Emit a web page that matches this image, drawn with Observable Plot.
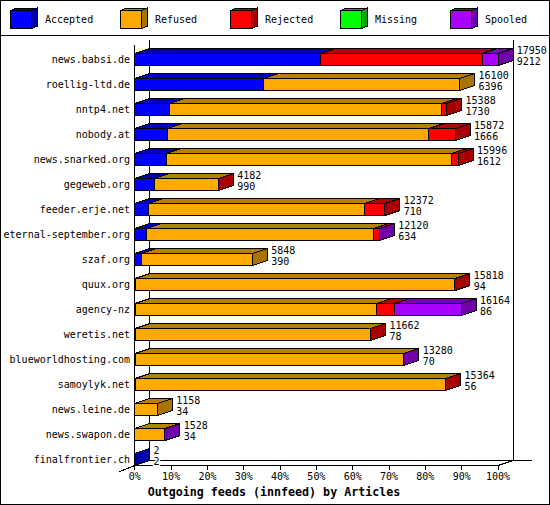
<!DOCTYPE html>
<html><head><meta charset="utf-8">
<script src="https://cdn.jsdelivr.net/npm/d3@7"></script>
<script src="https://cdn.jsdelivr.net/npm/@observablehq/plot@0.6"></script>
<style>
html,body{margin:0;padding:0;background:#fff}
#wrap{position:relative;width:550px;height:505px;overflow:hidden;background:#fff;font-family:"DejaVu Sans Mono",monospace;color:#000}
#frame{position:absolute;left:0;top:0;width:550px;height:505px;box-sizing:border-box;border:1px solid #000;pointer-events:none}
#legend{position:absolute;left:0;top:0;width:550px;height:36px}
#legend svg,#chart svg{display:block}
#rule{position:absolute;left:0;top:35px;width:550px;height:1px;background:#000}
#chart{position:absolute;left:0;top:35px}
#title{position:absolute;left:0;width:548px;top:485px;text-align:center;font-weight:bold;font-size:11.67px;line-height:14px;white-space:nowrap}
</style></head>
<body><div id="wrap"><div id="legend"></div><div id="rule"></div><div id="chart"></div>
<div id="title">Outgoing feeds (innfeed) by Articles</div><div id="frame"></div></div>
<script>
const hosts = ["news.babsi.de","roellig-ltd.de","nntp4.net","nobody.at","news.snarked.org","gegeweb.org","feeder.erje.net","eternal-september.org","szaf.org","quux.org","agency-nz","weretis.net","blueworldhosting.com","samoylyk.net","news.leine.de","news.swapon.de","finalfrontier.ch"];
const accepted = [51.1,35.4,9.55,9.0,8.62,5.4,3.67,3.2,1.84,0.2,0.2,0.2,0.2,0.2,0,0,0.02];
const refused  = [0,54.1,74.8,72.0,78.7,17.6,59.5,62.5,30.55,87.9,66.3,64.7,73.85,85.4,6.25,8.26,0];
const rejected = [44.5,0,1.57,7.26,1.76,0.05,5.7,1.65,0,0.05,4.95,0.05,0,0.05,0,0,0];
const missing  = [0,0,0,0,0,0,0,0,0,0,0,0,0,0,0,0,0];
const spooled  = [4.4,0,0,0,0,0,0,0.05,0,0,18.44,0,0.05,0,0,0.05,0];
const topLabels = ["17950","16100","15388","15872","15996","4182","12372","12120","5848","15818","16164","11662","13280","15364","1158","1528","2"];
const subLabels = ["9212","6396","1730","1666","1612","990","710","634","390","94","86","78","70","56","34","34","2"];
const seriesNames = ["Accepted","Refused","Rejected","Missing","Spooled"];
const frontColors = ["#0000ff","#ffaa00","#ff0000","#00ff00","#aa00ff"];
const topColors   = ["#0000b8","#b88000","#b80000","#00b800","#7a00b8"];
const sideColors  = ["#0000a8","#a87400","#a80000","#00a800","#7000a8"];
const seriesValues = [accepted,refused,rejected,missing,spooled];

const font = "DejaVu Sans Mono, monospace";
const depthX = 15/3.63, depthY = 0.2, half = 0.24;

// one closed polygon per face of a box
function box(id, s, x1, x2, y1, y2, dx, dy, withSide) {
  const poly = (name, fill, pts) => pts.concat([pts[0]]).map(([x, y]) => ({x, y, fill, face: id + name}));
  let out = poly("t", topColors[s], [[x1,y1],[x1+dx,y1-dy],[x2+dx,y1-dy],[x2,y1]]);
  out = out.concat(poly("f", frontColors[s], [[x1,y1],[x2,y1],[x2,y2],[x1,y2]]));
  if (withSide) out = out.concat(poly("s", sideColors[s], [[x2,y1],[x2+dx,y1-dy],[x2+dx,y2-dy],[x2,y2]]));
  return out;
}

let faces = [], ends = [];
hosts.forEach((h, i) => {
  let pos = 0, segs = [];
  seriesValues.forEach((vals, s) => { if (vals[i] > 0) { segs.push([s, pos, pos + vals[i]]); pos += vals[i]; } });
  segs.forEach(([s, a, b], k) => {
    faces = faces.concat(box(i + "-" + s, s, a, b, i - half, i + half, depthX, depthY, k === segs.length - 1));
  });
  ends.push({i, end: pos + depthX, a: topLabels[i], b: subLabels[i]});
});

const lineOpts = {x:"x", y:"y", z:"face", fill:"fill", stroke:"#000", strokeWidth:1, curve:"linear", shapeRendering:"crispEdges"};
const crisp = {stroke:"#000", strokeWidth:1, shapeRendering:"crispEdges"};
const topFront = -0.572, topBack = -0.772, bottomFront = 16 + half, bottomBack = bottomFront - depthY;

document.getElementById("chart").append(Plot.plot({
  width:550, height:449, marginLeft:134, marginRight:52, marginTop:0, marginBottom:19,
  style:{fontFamily:font, fontSize:"10px", background:"transparent", color:"#000"},
  x:{domain:[0,100], range:[134.3,497.5]},
  y:{domain:[0,16], range:[24,424]},
  marks:[
    Plot.ruleX([0], {...crisp, y1:topFront, y2:bottomFront}),
    Plot.ruleX([depthX, 100+depthX], {...crisp, y1:topBack, y2:bottomBack}),
    Plot.ruleY([bottomFront], {...crisp, x1:0, x2:100}),
    Plot.ruleY([bottomBack], {...crisp, x1:depthX, x2:109.6}),
    Plot.line([{x:0,y:bottomFront},{x:-depthX,y:bottomFront+depthY*1.2}], {x:"x",y:"y",...crisp}),
    Plot.line([{x:100,y:bottomFront},{x:100+depthX,y:bottomBack}], {x:"x",y:"y",...crisp}),
    Plot.line(faces, lineOpts),
    Plot.axisX({ticks:d3.range(0,101,10), tickFormat:d=>d+"%", tickSize:5, tickPadding:2.5, label:null, fontSize:10, shapeRendering:"crispEdges"}),
    Plot.axisY({ticks:d3.range(0,17), tickFormat:i=>hosts[i], tickSize:0, tickPadding:4.5, label:null, fontSize:10}),
    Plot.text(ends, {x:"end", y:"i", text:"a", textAnchor:"start", dx:3.7, dy:-9, fontSize:10, fill:"#000", stroke:"#fff", strokeWidth:3, paintOrder:"stroke"}),
    Plot.text(ends, {x:"end", y:"i", text:"b", textAnchor:"start", dx:3.7, dy:2, fontSize:10, fill:"#000", stroke:"#fff", strokeWidth:3, paintOrder:"stroke"})
  ]
}));

// legend: same cube shape, one per series
const legendIdx = d3.range(seriesNames.length);
faces = legendIdx.flatMap(s => box("L"+s, s, s, s+21/110, 10, 28, 6/110, 2.5, true));
document.getElementById("legend").append(Plot.plot({
  width:550, height:36, margin:0,
  style:{fontFamily:font, fontSize:"10px", background:"transparent", color:"#000"},
  x:{domain:[0,4], range:[10,450], axis:null},
  y:{domain:[0,36], range:[0,36], axis:null},
  marks:[
    Plot.line(faces, lineOpts),
    Plot.text(legendIdx, {x:d=>d, y:d=>19.5, text:d=>seriesNames[d], textAnchor:"start", dx:34.5, fontSize:10, fill:"#000"})
  ]
}));
</script></body></html>
